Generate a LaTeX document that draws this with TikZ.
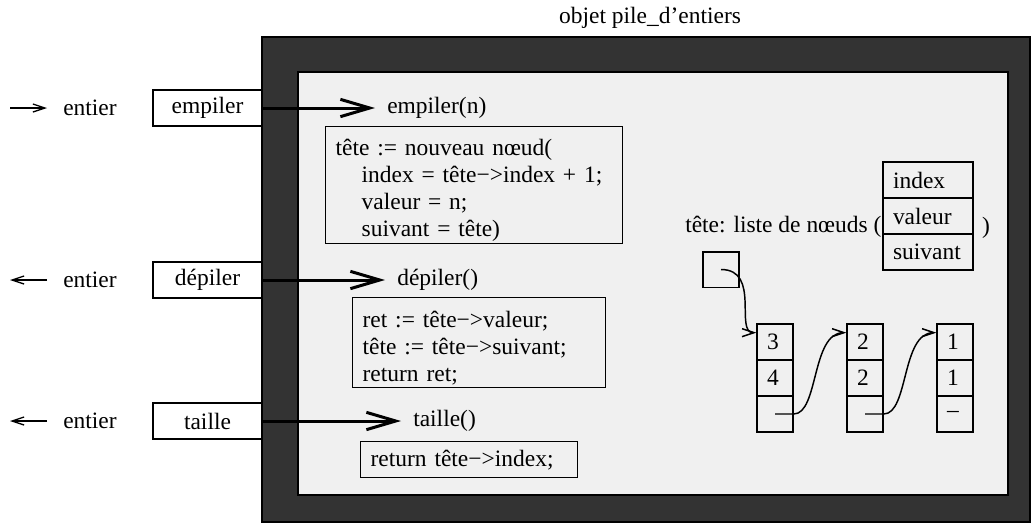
\documentclass[tikz,border=0pt]{standalone}
\usepackage{fontspec}
\setmainfont{Liberation Serif}
\usetikzlibrary{arrows.meta,calc}
\definecolor{darkpanel}{HTML}{333333}
\definecolor{lightpanel}{HTML}{F0F0F0}
\begin{document}
\begin{tikzpicture}[x=0.75pt,y=-0.75pt,
  every node/.style={font=\fontsize{17.6}{20.3}\selectfont},
  lbox/.style={draw,line width=1pt,fill=white,minimum width=81.75pt,minimum height=27pt,inner sep=0pt},
  code/.style={draw,line width=1pt,anchor=north west,align=left,inner xsep=7.5pt,inner ysep=0pt},
  cell/.style={draw,line width=1pt,minimum width=27pt,minimum height=27pt,inner xsep=7.5pt,inner ysep=0pt,text width=12pt,align=left},
  rcell/.style={draw,line width=1pt,minimum height=27.2pt,inner xsep=7.5pt,inner ysep=0pt,text width=52.5pt,align=left},
  call/.style={anchor=west,inner xsep=9pt,inner ysep=0pt},
  bigarrow/.style={line width=2.25pt,-{Straight Barb[length=22pt,width=13pt]}},
  smallarrow/.style={line width=1pt,-{Straight Barb[length=9pt,width=6pt]}},
  link/.style={line width=1.1pt,-{Straight Barb[length=9pt,width=6pt]}},
]
\useasboundingbox (0,0) rectangle (1034,529);
% panels
\filldraw[fill=darkpanel,draw=black,line width=1pt] (262,37) rectangle (1030,522);
\filldraw[fill=lightpanel,draw=black,line width=1pt] (298,72) rectangle (1008,495);
\node (title) at (650,18) {objet pile\_d’entiers};

% left side
\node (e1) at (90,108) {entier};
\node (e2) at (90,280) {entier};
\node (e3) at (90,421) {entier};
\coordinate (a1s) at (10,108); \coordinate (a1e) at (47,108);
\coordinate (a2s) at (47,280); \coordinate (a2e) at (10,280);
\coordinate (a3s) at (47,421); \coordinate (a3e) at (10,421);
\draw[smallarrow] (a1s) -- (a1e);
\draw[smallarrow] (a2s) -- (a2e);
\draw[smallarrow] (a3s) -- (a3e);

\node[lbox] (b1) at (207.5,108) {empiler};
\node[lbox] (b2) at (207.5,280) {dépiler};
\node[lbox] (b3) at (207.5,421) {taille};

\node[call] (l1) at (375,108) {empiler(n)};
\node[call] (l2) at (385,280) {dépiler()};
\node[call] (l3) at (401,421) {taille()};
\draw[bigarrow] (b1.east) -- (l1.west);
\draw[bigarrow] (b2.east) -- (l2.west);
\draw[bigarrow] (b3.east) -- (l3.west);

% code boxes
\node[code,text width=207.75pt,minimum height=87.75pt] (c1) at (325,126)
  {\rule{0pt}{20pt}tête := nouveau nœud(\\
   \hspace*{19.5pt}index = tête−>index + 1;\\
   \hspace*{19.5pt}valeur = n;\\
   \hspace*{19.5pt}suivant = tête)};
\node[code,text width=174.75pt,minimum height=67.5pt] (c2) at (352,297)
  {\rule{0pt}{20pt}ret := tête−>valeur;\\
   tête := tête−>suivant;\\
   return ret;};
\node[code,text width=147.75pt,minimum height=27pt] (c3) at (360,441)
  {return tête−>index;};

% list description
\node[anchor=west,inner sep=0pt] (desc) at (685,227) {tête: liste de nœuds (};
\node[rcell] (r1) at (928,180) {index};
\node[rcell] (r2) at (928,216) {valeur};
\node[rcell] (r3) at (928,252) {suivant};
\node[inner sep=0pt] (close) at (986,228) {)};

% head pointer
\node[draw,line width=1pt,minimum width=27pt,minimum height=26.5pt,inner sep=0pt] (sq) at (721,269.5) {};

% list nodes
\node[cell] (n1a) at (775,342) {3};
\node[cell] (n1b) at (775,378) {4};
\node[cell] (n1c) at (775,414) {};
\node[cell] (n2a) at (865,342) {2};
\node[cell] (n2b) at (865,378) {2};
\node[cell] (n2c) at (865,414) {};
\node[cell] (n3a) at (955,342) {1};
\node[cell] (n3b) at (955,378) {1};
\node[cell] (n3c) at (955,414) {–};

\draw[link] (sq.center) .. controls +(40,0) and +(-22,0) .. ($(n1a.north west)!0.25!(n1a.south west)$);
\draw[link] (n1c.center) -- (n1c.east) .. controls +(25,0) and +(-35,0) .. ($(n2a.north west)!0.25!(n2a.south west)$);
\draw[link] (n2c.center) -- (n2c.east) .. controls +(25,0) and +(-35,0) .. ($(n3a.north west)!0.25!(n3a.south west)$);
\end{tikzpicture}
\end{document}
